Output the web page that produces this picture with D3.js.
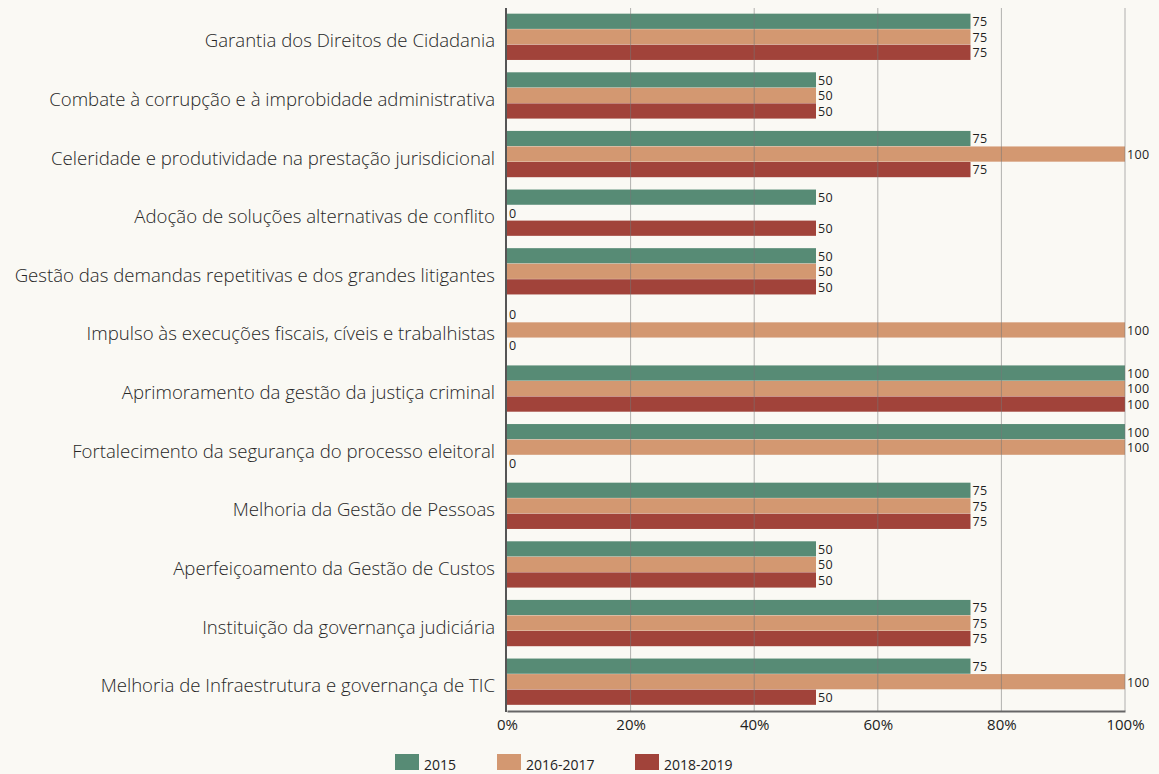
<!DOCTYPE html>
<html>
<head>
<meta charset="utf-8">
<script src="https://cdn.jsdelivr.net/npm/d3@7"></script>
<style>
  body { margin: 0; background: #faf9f4; }
  svg { display: block; font-family: "Open Sans", sans-serif; }
</style>
</head>
<body>
<svg width="1159" height="774"></svg>
<script>
const categories = [
  "Garantia dos Direitos de Cidadania",
  "Combate à corrupção e à improbidade administrativa",
  "Celeridade e produtividade na prestação jurisdicional",
  "Adoção de soluções alternativas de conflito",
  "Gestão das demandas repetitivas e dos grandes litigantes",
  "Impulso às execuções fiscais, cíveis e trabalhistas",
  "Aprimoramento da gestão da justiça criminal",
  "Fortalecimento da segurança do processo eleitoral",
  "Melhoria da Gestão de Pessoas",
  "Aperfeiçoamento da Gestão de Custos",
  "Instituição da governança judiciária",
  "Melhoria de Infraestrutura e governança de TIC"
];
const seriesNames = ["2015", "2016-2017", "2018-2019"];
const values2015 = [75, 50, 75, 50, 50, 0, 100, 100, 75, 50, 75, 75];
const values2016 = [75, 50, 100, 0, 50, 100, 100, 100, 75, 50, 75, 100];
const values2018 = [75, 50, 75, 50, 50, 0, 100, 0, 75, 50, 75, 50];
const colors = ["#578b75", "#d39871", "#a1433a"];
const ticks = [0, 20, 40, 60, 80, 100];

const seriesValues = [values2015, values2016, values2018];
const data = categories.map((c, i) => ({
  name: c,
  vals: seriesNames.map((s, j) => ({ key: s, value: seriesValues[j][i] }))
}));

const svg = d3.select('svg');

const x = d3.scaleLinear().domain([0, 100]).range([507, 1125]);
const y = d3.scaleBand().domain(categories).range([7.5, 711])
  .paddingInner(0.2).paddingOuter(0.1);
const yInner = d3.scaleBand().domain(seriesNames).range([0, y.bandwidth()]).padding(0.02);

// bars
const groups = svg.append('g').selectAll('g').data(data).enter()
  .append('g')
  .attr('transform', d => 'translate(0,' + y(d.name) + ')');

groups.selectAll('rect').data(d => d.vals).enter()
  .append('rect')
  .attr('x', x(0))
  .attr('y', d => yInner(d.key))
  .attr('width', d => x(d.value) - x(0))
  .attr('height', yInner.bandwidth())
  .attr('fill', (d, i) => colors[i]);

groups.selectAll('text.val').data(d => d.vals).enter()
  .append('text')
  .attr('class', 'val')
  .attr('x', d => x(d.value) + 2)
  .attr('y', d => yInner(d.key) + yInner.bandwidth() / 2 + 0.5)
  .attr('dy', '0.35em')
  .style('font-size', '12.5px')
  .style('letter-spacing', '0.4px')
  .style('font-weight', 500)
  .style('fill', '#1e1e1e')
  .text(d => d.value);

// category labels
svg.append('g').selectAll('text').data(categories).enter()
  .append('text')
  .attr('x', 495)
  .attr('y', d => y(d) + y.bandwidth() / 2 + 4)
  .attr('dy', '0.35em')
  .attr('text-anchor', 'end')
  .style('font-size', '18.6px')
  .style('font-weight', 300)
  .style('fill', '#262626')
  .text(d => d);

// gridlines over bars
svg.append('g').selectAll('line').data(ticks.slice(1)).enter()
  .append('line')
  .attr('x1', d => x(d)).attr('x2', d => x(d))
  .attr('y1', 8).attr('y2', 711)
  .attr('stroke', '#777')
  .attr('stroke-opacity', 0.55)
  .attr('stroke-width', 1);

// axes
const xAxis = d3.axisBottom(x).tickValues(ticks).tickSize(0).tickPadding(8)
  .tickFormat(d => d + '%');
const xg = svg.append('g').attr('transform', 'translate(0,711)').call(xAxis);
xg.select('.domain').attr('stroke', '#666').attr('stroke-width', 2);
xg.selectAll('text').style('font-size', '15px').style('fill', '#222')
  .style('font-family', '"Open Sans", sans-serif');

svg.append('line')
  .attr('x1', 506).attr('x2', 506)
  .attr('y1', 8).attr('y2', 712)
  .attr('stroke', '#555').attr('stroke-width', 2);

// legend
const legendX = [395, 497, 635];
const legend = svg.append('g').selectAll('g').data(seriesNames).enter()
  .append('g')
  .attr('transform', (d, i) => 'translate(' + legendX[i] + ',754)');
legend.append('rect')
  .attr('width', 24).attr('height', 16)
  .attr('fill', (d, i) => colors[i]);
legend.append('text')
  .attr('x', 29).attr('y', 9).attr('dy', '0.5em')
  .style('font-size', '14px')
  .style('fill', '#222')
  .text(d => d);
</script>
</body>
</html>
